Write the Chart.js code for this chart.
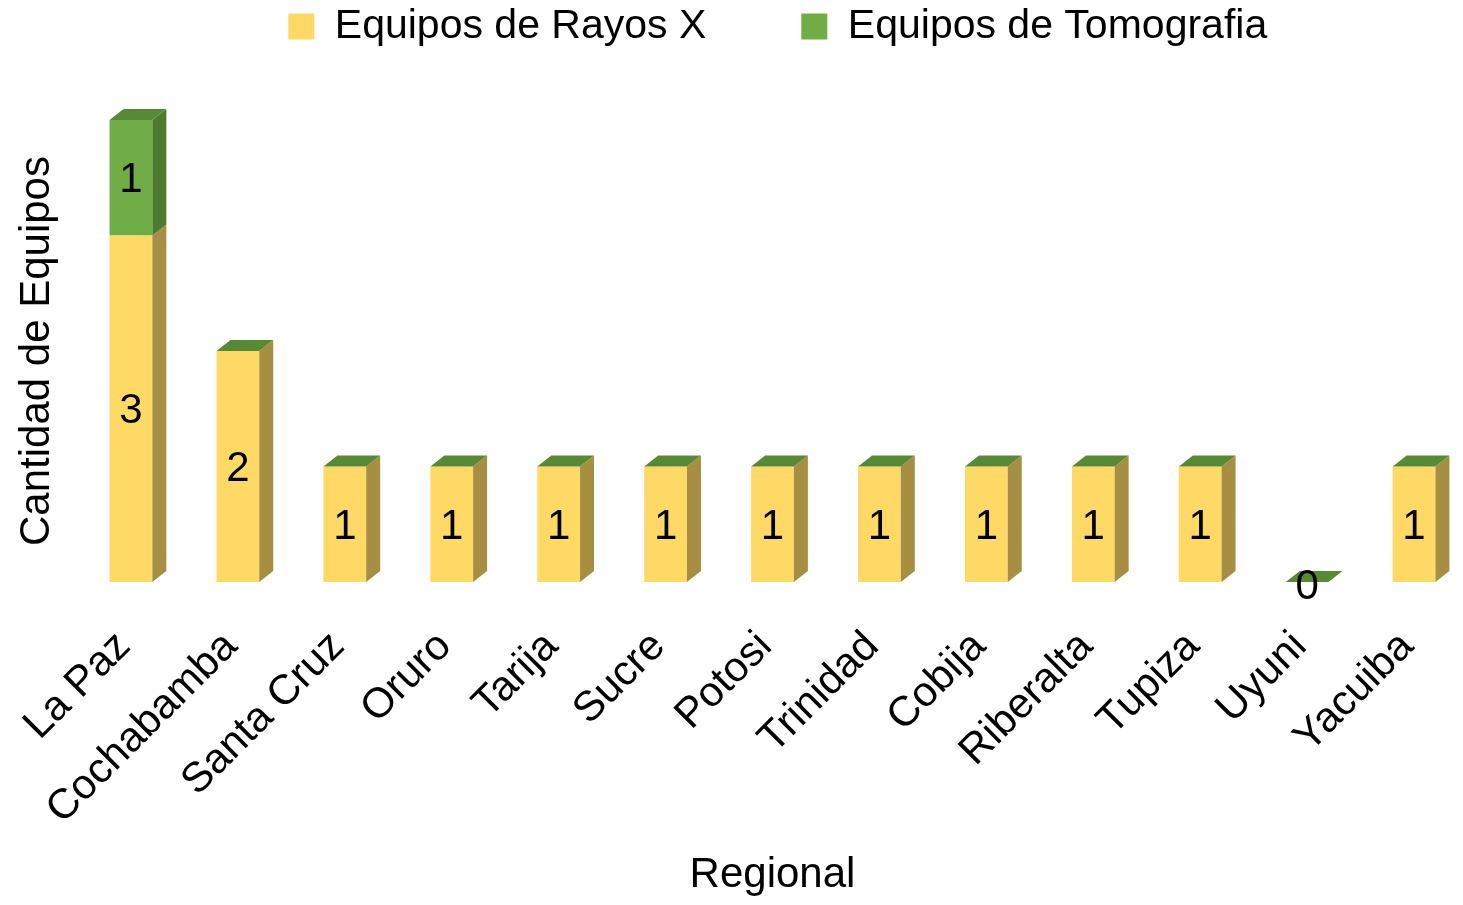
<!DOCTYPE html>
<html>
<head>
<meta charset="utf-8">
<script src="https://cdn.jsdelivr.net/npm/chart.js@4"></script>
<style>
body { margin: 0; background: #fff; overflow: hidden; }
#wrap { width: 1480px; height: 905px; }
</style>
</head>
<body>
<div id="wrap"><canvas id="equiposChart"></canvas></div>
<script>
const regionales = ['La Paz', 'Cochabamba', 'Santa Cruz', 'Oruro', 'Tarija', 'Sucre', 'Potosi',
    'Trinidad', 'Cobija', 'Riberalta', 'Tupiza', 'Uyuni', 'Yacuiba'];
const rayosX = [3, 2, 1, 1, 1, 1, 1, 1, 1, 1, 1, 0, 1];
const tomografia = [1, 0, 0, 0, 0, 0, 0, 0, 0, 0, 0, 0, 0];

const fuente = "'Liberation Sans', Arial, sans-serif";
const amarillo = '#FFD966', amarilloLado = '#A68F42';
const verde = '#70AD47', verdeLado = '#4C7A2E', verdeTapa = '#588A36';

// caras laterales, tapa y etiquetas de valor
const caras3d = {
    id: 'caras3d',
    beforeInit(chart) {
        const fit = chart.legend.fit;
        chart.legend.fit = function () {
            fit.call(this);
            this.height = 120;
        };
    },
    afterLayout(chart) {
        chart.legend.top -= 89;
        chart.legend.left += 44;
        chart.legend.right += 44;
    },
    afterDatasetsDraw(chart) {
        const c = chart.ctx;
        const dx = 14, dy = -11;
        const m0 = chart.getDatasetMeta(0).data;
        const m1 = chart.getDatasetMeta(1).data;
        const poly = (pts, color) => {
            c.beginPath();
            c.moveTo(pts[0][0], pts[0][1]);
            pts.slice(1).forEach(p => c.lineTo(p[0], p[1]));
            c.closePath();
            c.fillStyle = color;
            c.fill();
        };
        c.save();
        m0.forEach((b0, i) => {
            [[b0, amarilloLado], [m1[i], verdeLado]].forEach(([b, color]) => {
                const r = b.x + b.width / 2;
                const top = Math.min(b.y, b.base), bot = Math.max(b.y, b.base);
                if (bot - top > 0.5) {
                    poly([[r, top], [r + dx, top + dy], [r + dx, bot + dy], [r, bot]], color);
                }
            });
            const t = m1[i];
            const l = t.x - t.width / 2, r = t.x + t.width / 2;
            poly([[l, t.y], [r, t.y], [r + dx, t.y + dy], [l + dx, t.y + dy]], verdeTapa);
        });
        c.font = '42px ' + fuente;
        c.fillStyle = '#000';
        c.textAlign = 'center';
        c.textBaseline = 'middle';
        m0.forEach((b, i) => {
            const y = rayosX[i] > 0 ? (b.y + b.base) / 2 + 3 : b.base + 5;
            c.fillText(String(rayosX[i]), b.x, y);
        });
        m1.forEach((b, i) => {
            if (tomografia[i] > 0) c.fillText(String(tomografia[i]), b.x, (b.y + b.base) / 2 + 3);
        });
        c.restore();
    }
};

const ctx = document.getElementById('equiposChart').getContext('2d');
let equiposChart = new Chart(ctx, {
    type: 'bar',
    data: {
        labels: regionales,
        datasets: [{
            label: 'Equipos de Rayos X',
            data: rayosX,
            backgroundColor: amarillo,
            borderWidth: 0
        }, {
            label: 'Equipos de Tomografia',
            data: tomografia,
            backgroundColor: verde,
            borderWidth: 0
        }]
    },
    options: {
        responsive: true,
        maintainAspectRatio: false,
        animation: false,
        layout: { padding: { left: 0, right: 12.5, top: 0, bottom: 0 } },
        datasets: { bar: { categoryPercentage: 1, barPercentage: 0.4 } },
        plugins: {
            legend: {
                position: 'top',
                labels: {
                    boxWidth: 26,
                    boxHeight: 26,
                    padding: 95,
                    color: '#000',
                    font: { size: 41, family: fuente }
                }
            },
            tooltip: { enabled: false }
        },
        scales: {
            x: {
                stacked: true,
                grid: { display: false, drawTicks: false },
                border: { display: false },
                ticks: {
                    color: '#000',
                    font: { size: 42, family: fuente },
                    minRotation: 45,
                    maxRotation: 45,
                    padding: 40,
                    labelOffset: -7
                },
                title: {
                    display: true,
                    text: 'Regional',
                    color: '#000',
                    font: { size: 42, family: fuente }
                },
                afterFit(s) {
                    s.height = 323;
                    s.paddingLeft = 0;
                    s.paddingRight = 0;
                }
            },
            y: {
                stacked: true,
                min: 0,
                max: 4,
                grid: { display: false, drawTicks: false },
                border: { display: false },
                ticks: { display: false },
                title: {
                    display: true,
                    text: 'Cantidad de Equipos',
                    color: '#000',
                    font: { size: 42, family: fuente },
                    padding: { top: 12, bottom: 4 }
                },
                afterFit(s) { s.width = 77.5; }
            }
        }
    },
    plugins: [caras3d]
});
</script>
</body>
</html>
